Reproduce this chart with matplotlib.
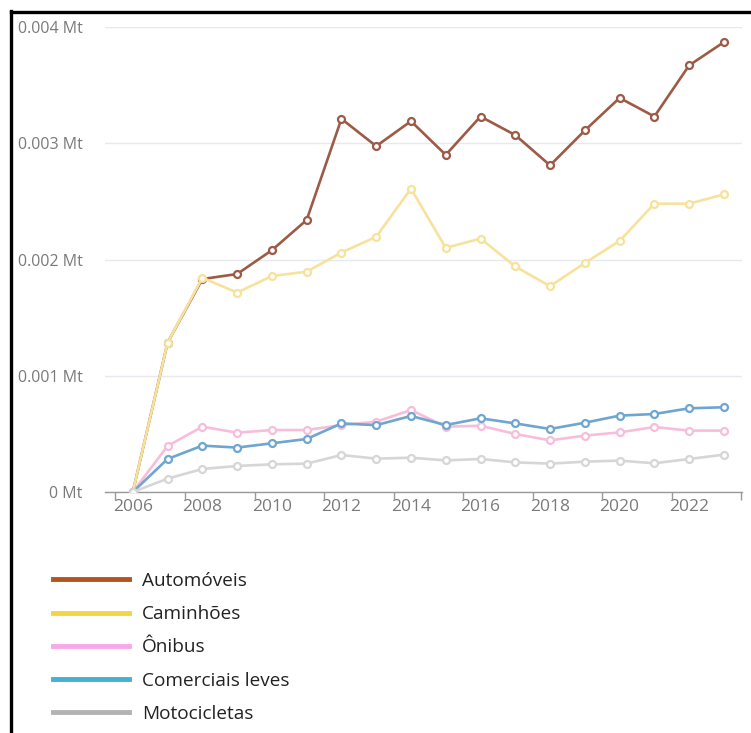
import matplotlib
matplotlib.use("Agg")
import matplotlib.pyplot as plt
from matplotlib.lines import Line2D
from matplotlib.ticker import FuncFormatter, MultipleLocator

plt.rcParams['font.family'] = ['Open Sans', 'DejaVu Sans']

years = list(range(2006, 2024))

automoveis = [0.0, 1.285, 1.832, 1.875, 2.08, 2.34, 3.21, 2.975, 3.19, 2.90, 3.23,
              3.07, 2.81, 3.11, 3.39, 3.23, 3.67, 3.87]
caminhoes = [0.0, 1.285, 1.843, 1.715, 1.858, 1.895, 2.06, 2.195, 2.61, 2.10, 2.18,
             1.94, 1.77, 1.97, 2.16, 2.48, 2.48, 2.56]
onibus = [0.0, 0.396, 0.562, 0.51, 0.533, 0.533, 0.576, 0.605, 0.705, 0.562, 0.57,
          0.499, 0.444, 0.485, 0.513, 0.559, 0.528, 0.528]
comerciais_leves = [0.0, 0.284, 0.399, 0.382, 0.419, 0.456, 0.59, 0.575, 0.654, 0.576,
                    0.634, 0.59, 0.542, 0.596, 0.657, 0.671, 0.72, 0.729]
motocicletas = [0.0, 0.115, 0.198, 0.224, 0.238, 0.244, 0.318, 0.287, 0.295, 0.272,
                0.284, 0.255, 0.244, 0.261, 0.27, 0.247, 0.284, 0.321]

# values above are in thousandths of a megatonne
series = [
    ("Automóveis", automoveis, "#9c5a47", "#b5531f"),
    ("Caminhões", caminhoes, "#f7e29c", "#f5d444"),
    ("Ônibus", onibus, "#f6bedb", "#f7a8e8"),
    ("Comerciais leves", comerciais_leves, "#6ea6d0", "#45b0d2"),
    ("Motocicletas", motocicletas, "#d6d6d6", "#b3b3b3"),
]

fig = plt.figure(figsize=(7.51, 7.33), dpi=100)
ax = fig.add_axes([105 / 751, 1 - 492 / 733, (742 - 105) / 751, (492 - 27) / 733])

for name, vals, line_c, _ in series:
    ax.plot(years, [v * 1e-3 for v in vals], color=line_c, lw=1.9,
            marker='o', markersize=5, markerfacecolor='white',
            markeredgecolor=line_c, markeredgewidth=1.6, zorder=3)

ax.set_xlim(2005.2, 2023.52)
ax.set_ylim(0, 0.004)

ax.yaxis.set_major_locator(MultipleLocator(0.001))
ax.yaxis.set_major_formatter(FuncFormatter(lambda v, p: "0 Mt" if v == 0 else f"{v:.3f} Mt"))
ax.tick_params(axis='y', length=0, pad=16, labelsize=11.5, labelcolor='#7a7a7a')
ax.grid(axis='y', color='#e6e9f0', lw=1)
ax.set_axisbelow(True)

ax.set_xticks(list(range(2006, 2024, 2)))
ax.set_xticks([y - 0.5 for y in range(2006, 2025, 2)], minor=True)
ax.tick_params(axis='x', which='major', length=0, pad=5, labelsize=12.5, labelcolor='#7a7a7a')
ax.tick_params(axis='x', which='minor', length=6, width=1, color='#999999')

for s in ['top', 'right', 'left']:
    ax.spines[s].set_visible(False)
ax.spines['bottom'].set_color('#999999')
ax.spines['bottom'].set_linewidth(1)

handles = [Line2D([0], [0], color=leg_c, lw=3.5) for _, _, _, leg_c in series]
labels = [name for name, _, _, _ in series]
fig.legend(handles, labels, loc='upper left', bbox_to_anchor=(53 / 751, 1 - 572 / 733),
           frameon=False, fontsize=13.7, handlelength=4.0, handletextpad=0.68,
           labelspacing=0.8, borderaxespad=0, borderpad=0, labelcolor='#222222')

# black frame along the top and left edges
fig.add_artist(Line2D([11 / 751, 11 / 751], [0, 1 - 11 / 733], color='black', lw=2.4,
                      transform=fig.transFigure, solid_capstyle='projecting'))
fig.add_artist(Line2D([11 / 751, 1], [1 - 12 / 733, 1 - 12 / 733], color='black', lw=2.4,
                      transform=fig.transFigure, solid_capstyle='projecting'))

fig.savefig("out.png", dpi=100)
